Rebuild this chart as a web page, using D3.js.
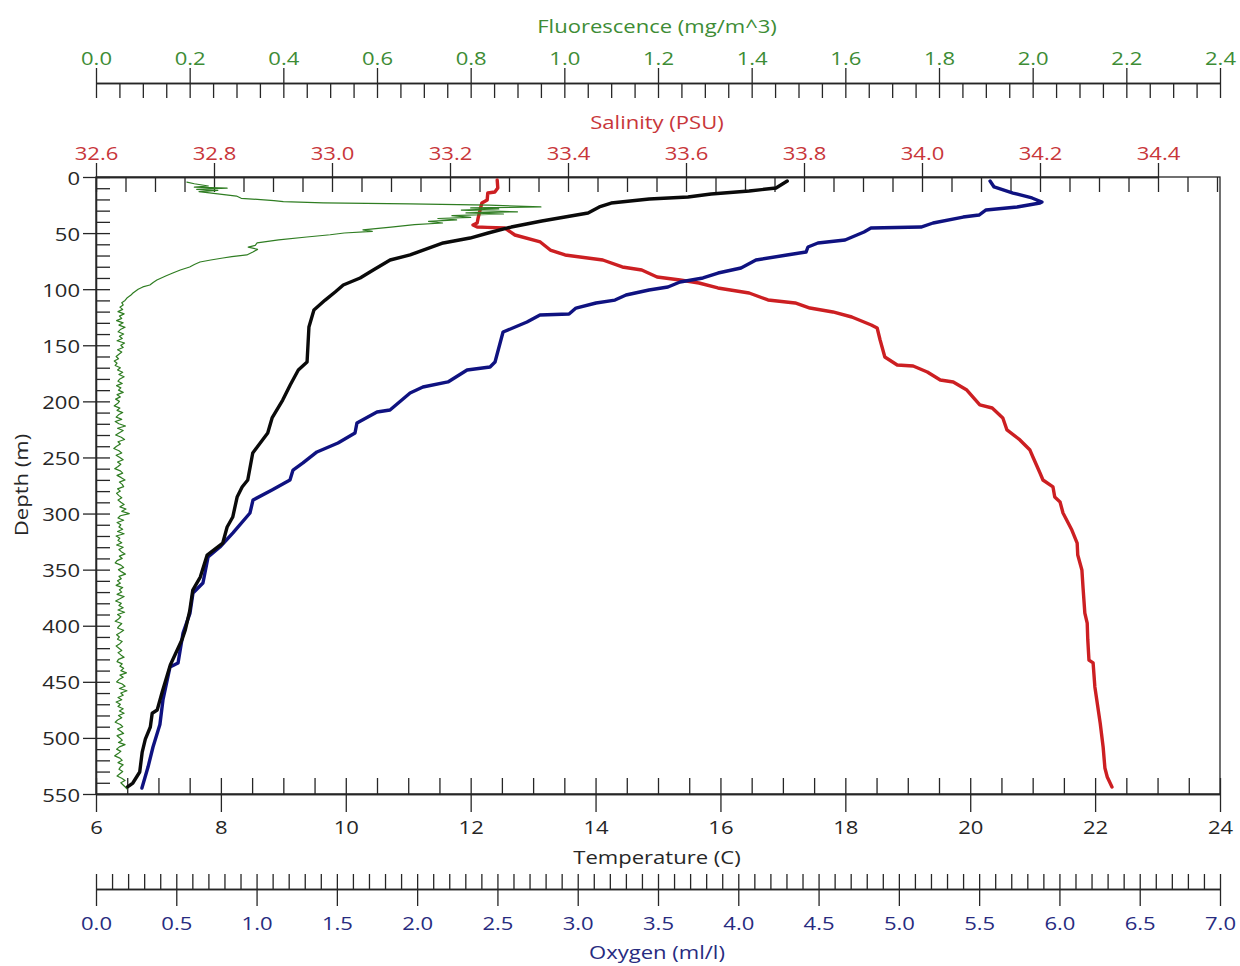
<!DOCTYPE html>
<html>
<head>
<meta charset="utf-8">
<title>CTD profile</title>
<script src="https://cdn.jsdelivr.net/npm/d3@7"></script>
<style>
  html, body { margin: 0; padding: 0; background: #ffffff; }
  svg { display: block; }
</style>
</head>
<body>
<svg id="chart" width="1240" height="966"></svg>
<script>
// ---- Cast data: each entry is [depth (m), value] ----
const temperatureProfile = [
  [3.6,17.07],[9.8,16.89],[12.5,16.46],[15.2,15.85],[17.8,15.48],[19.6,14.86],[23.2,14.25],
  [26.7,14.06],[32.1,13.88],[35.7,13.51],[39.2,13.14],[44.6,12.65],[49.9,12.28],[54.4,11.99],
  [58.8,11.56],[65.1,11.24],[69.5,11.03],[74.0,10.71],[82.9,10.44],[90.0,10.23],[96.3,9.96],
  [102.5,9.83],[109.7,9.67],[118.6,9.49],[133.7,9.41],[164.9,9.38],[172.0,9.24],[185.4,9.11],
  [198.8,8.99],[214.8,8.82],[228.2,8.75],[246.0,8.51],[270.1,8.43],[276.3,8.34],[285.3,8.26],
  [303.1,8.19],[312.0,8.10],[326.3,8.03],[337.0,7.78],[356.6,7.67],[368.2,7.55],[387.0,7.50],
  [403.8,7.43],[412.0,7.38],[435.0,7.19],[459.1,7.06],[475.1,6.98],[478.0,6.90],[490.3,6.87],
  [501.0,6.79],[512.6,6.74],[530.4,6.70],[540.2,6.59],[543.8,6.50]
];
const salinityProfile = [
  [2.7,33.280],[9.8,33.281],[13.4,33.276],[14.3,33.264],[20.5,33.263],[23.2,33.254],
  [29.4,33.251],[35.7,33.248],[41.0,33.246],[42.8,33.239],[44.6,33.246],[44.9,33.263],
  [45.5,33.293],[51.7,33.310],[57.9,33.353],[65.1,33.370],[69.5,33.395],[74.0,33.459],
  [80.2,33.492],[82.9,33.525],[89.1,33.551],[91.8,33.590],[94.5,33.622],[98.9,33.654],
  [103.4,33.707],[109.6,33.739],[112.3,33.785],[116.8,33.810],[120.3,33.849],[124.8,33.881],
  [131.9,33.914],[134.6,33.924],[145.3,33.929],[160.5,33.937],[167.6,33.958],[168.5,33.985],
  [173.8,34.009],[181.0,34.031],[182.7,34.053],[189.9,34.076],[203.2,34.098],[205.9,34.119],
  [214.8,34.137],[225.5,34.144],[234.4,34.166],[243.4,34.183],[249.6,34.188],[263.9,34.200],
  [270.1,34.205],[276.3,34.222],[285.3,34.225],[289.7,34.234],[299.5,34.239],[314.7,34.254],
  [326.3,34.263],[337.0,34.264],[350.3,34.271],[366.4,34.273],[388.7,34.276],[397.6,34.280],
  [412.7,34.281],[430.6,34.283],[433.2,34.290],[454.6,34.293],[468.9,34.297],[486.7,34.302],
  [508.1,34.307],[526.8,34.310],[534.8,34.314],[543.8,34.322]
];
const oxygenProfile = [
  [3.6,5.568],[8.9,5.593],[14.3,5.711],[18.7,5.829],[22.3,5.891],[23.2,5.879],[26.7,5.736],
  [29.4,5.543],[33.9,5.499],[35.7,5.400],[41.0,5.213],[44.6,5.138],[45.5,4.826],[49.0,4.783],
  [56.2,4.665],[58.8,4.496],[62.4,4.434],[66.9,4.422],[69.5,4.303],[74.0,4.110],[81.1,4.017],
  [85.6,3.874],[90.0,3.780],[93.6,3.637],[98.1,3.562],[100.7,3.444],[105.2,3.301],[109.7,3.232],
  [112.3,3.114],[116.8,2.989],[122.1,2.946],[123.0,2.765],[129.3,2.684],[138.2,2.535],
  [164.9,2.485],[169.4,2.454],[172.0,2.311],[182.7,2.192],[187.2,2.036],[192.5,1.956],
  [207.7,1.831],[209.5,1.750],[219.3,1.625],[228.2,1.613],[237.1,1.507],[245.1,1.376],
  [254.9,1.289],[261.2,1.227],[270.1,1.208],[279.0,1.096],[287.9,0.978],[299.5,0.959],
  [317.3,0.853],[329.8,0.772],[338.7,0.698],[361.9,0.666],[370.8,0.604],[389.0,0.585],
  [406.5,0.542],[433.2,0.511],[436.8,0.461],[466.2,0.417],[488.0,0.398],[508.1,0.355],
  [526.0,0.324],[544.7,0.286]
];
const fluorescenceProfile = [
  [4.5,0.194],[6,0.21],[8,0.24],[9,0.21],[10,0.28],[11,0.215],[12,0.26],[13,0.22],[15,0.26],
  [17,0.30],[19,0.31],[21,0.38],[22,0.40],[23,0.485],[24,0.67],[25,0.84],[26.7,0.95],
  [27.6,0.80],[28.5,0.86],[29.5,0.78],[31,0.90],[32,0.79],[33,0.87],[34.5,0.76],[36,0.80],
  [37,0.73],[38.3,0.77],[39.5,0.71],[41,0.74],[42.5,0.68],[44.6,0.63],[47.2,0.57],[48.5,0.59],
  [49.9,0.53],[51.5,0.50],[53.5,0.45],[56,0.39],[58.8,0.344],[61,0.34],[62.5,0.325],
  [64.5,0.345],[66.9,0.335],[69.5,0.322],[71,0.29],[72.2,0.271],[74,0.245],[75.8,0.222],
  [78,0.21],[80.2,0.20],[82.9,0.18],[85.6,0.164],[88,0.15],[91.8,0.13],[94,0.122],[96.3,0.115],
  [98,0.10],[100,0.09],[103.4,0.079],[105.5,0.074],[107.9,0.066],[110,0.062],[112,0.055],[114,0.058],
  [116,0.051],[118,0.057],[120,0.047],[122,0.060],[124,0.050],[126,0.055],[128,0.044],[130,0.058],
  [132,0.049],[134,0.062],[136,0.052],[138,0.047],[140,0.059],[142,0.050],[144,0.056],[146,0.045],
  [148,0.061],[150,0.053],[152,0.058],[154,0.046],[156,0.055],[158,0.049],[160,0.043],[162,0.048],
  [164,0.039],[166,0.045],[168,0.041],[170,0.052],[172,0.046],[174,0.057],[176,0.049],[178,0.060],
  [180,0.051],[182,0.047],[184,0.056],[186,0.044],[188,0.053],[190,0.048],[192,0.058],[194,0.045],
  [196,0.052],[198,0.042],[200,0.050],[202,0.046],[204,0.039],[206,0.051],[208,0.045],[210,0.057],
  [212,0.048],[214,0.043],[216,0.055],[218,0.041],[220,0.049],[222,0.063],[224,0.046],[226,0.058],
  [228,0.050],[230,0.042],[232,0.054],[234,0.061],[236,0.047],[238,0.052],[240,0.044],[242,0.038],
  [244,0.049],[246,0.055],[248,0.043],[250,0.051],[252,0.058],[254,0.046],[256,0.053],[258,0.047],
  [260,0.040],[262,0.052],[264,0.057],[266,0.045],[268,0.054],[270,0.062],[272,0.050],[274,0.056],
  [276,0.059],[278,0.046],[280,0.052],[282,0.044],[284,0.049],[286,0.055],[288,0.047],[290,0.053],
  [292,0.060],[294,0.051],[296,0.064],[298,0.055],[300,0.071],[302,0.052],[304,0.047],[306,0.059],
  [308,0.045],[310,0.053],[312,0.049],[314,0.057],[316,0.046],[318,0.060],[320,0.043],[322,0.051],
  [324,0.047],[326,0.055],[328,0.044],[330,0.058],[332,0.049],[334,0.054],[336,0.062],[338,0.050],
  [340,0.056],[342,0.045],[344,0.041],[346,0.053],[348,0.059],[350,0.048],[352,0.055],[354,0.063],
  [356,0.049],[358,0.054],[360,0.046],[362,0.052],[364,0.043],[366,0.057],[368,0.050],[370,0.055],
  [372,0.045],[374,0.060],[376,0.051],[378,0.042],[380,0.054],[382,0.049],[384,0.058],[386,0.047],
  [388,0.061],[390,0.046],[392,0.053],[394,0.048],[396,0.041],[398,0.055],[400,0.050],[402,0.046],
  [404,0.059],[406,0.052],[408,0.044],[410,0.050],[412,0.046],[414,0.056],[416,0.051],[418,0.043],
  [420,0.049],[422,0.055],[424,0.047],[426,0.053],[428,0.060],[430,0.048],[432,0.045],[434,0.056],
  [436,0.051],[438,0.059],[440,0.053],[442,0.065],[444,0.051],[446,0.058],[448,0.049],[450,0.044],
  [452,0.056],[454,0.062],[456,0.050],[458,0.066],[460,0.053],[462,0.058],[464,0.047],[466,0.055],
  [468,0.043],[470,0.052],[472,0.047],[474,0.058],[476,0.050],[478,0.060],[480,0.048],[482,0.055],
  [484,0.046],[486,0.041],[488,0.052],[490,0.057],[492,0.046],[494,0.053],[496,0.059],[498,0.045],
  [500,0.051],[502,0.056],[504,0.048],[506,0.062],[508,0.050],[510,0.044],[512,0.053],[514,0.047],
  [516,0.040],[518,0.051],[520,0.056],[522,0.047],[524,0.058],[526,0.052],[528,0.049],[530,0.057],
  [532,0.051],[534,0.045],[536,0.055],[538,0.062],[540,0.053],[542,0.058],[544,0.063],[545.5,0.066]
];

// ---- Tick labels ----
const depthTicks = [0, 50, 100, 150, 200, 250, 300, 350, 400, 450, 500, 550];
const temperatureTicks = [6, 8, 10, 12, 14, 16, 18, 20, 22, 24];
const salinityTicks = [32.6, 32.8, 33.0, 33.2, 33.4, 33.6, 33.8, 34.0, 34.2, 34.4];
const fluorescenceTicks = [0.0, 0.2, 0.4, 0.6, 0.8, 1.0, 1.2, 1.4, 1.6, 1.8, 2.0, 2.2, 2.4];
const oxygenTicks = [0.0, 0.5, 1.0, 1.5, 2.0, 2.5, 3.0, 3.5, 4.0, 4.5, 5.0, 5.5, 6.0, 6.5, 7.0];

// ---- Styling ----
const FONT = "'Open Sans', 'Noto Sans', 'DejaVu Sans', sans-serif";
const FONT_SIZE = 19;
const SX = 1.16;              // horizontal text stretch
const INK = "#262626";
const COL = {
  temperature: "#0a0a0a",
  salinity: "#cc1f22",
  oxygen: "#0f1280",
  fluorescence: "#2f7d22",
  salinityText: "#c8363a",
  oxygenText: "#272b80",
  fluorescenceText: "#3d8c35"
};

const box = { left: 96, right: 1220, top: 177, bottom: 794 };

const svg = d3.select("#chart");
svg.append("rect").attr("width", 1240).attr("height", 966).attr("fill", "#ffffff");

// ---- Scales ----
const y  = d3.scaleLinear().domain([0, 550]).range([box.top, box.bottom]);
const xT = d3.scaleLinear().domain([6, 24]).range([box.left, box.right]);
const xS = d3.scaleLinear().domain([32.6, 34.4]).range([box.left, 1158]);
const xF = d3.scaleLinear().domain([0, 2.4]).range([box.left, box.right]);
const xO = d3.scaleLinear().domain([0, 7]).range([box.left, box.right]);

const steps = (start, stop, step) =>
  d3.range(0, Math.round((stop - start) / step) + 1).map(i => +(start + i * step).toFixed(4));

function styleAxis(g) {
  g.attr("font-family", FONT).attr("font-size", FONT_SIZE);
  g.selectAll(".domain").attr("stroke", INK).attr("stroke-width", 1.3);
  g.selectAll(".tick line").attr("stroke", INK).attr("stroke-width", 1.3);
}

// Horizontal ruler: labelled major ticks on one side, major+minor ticks on the other
function horizontalRuler(scale, yPos, major, minor, labelUp, outerLen, innerLen, labelDy, fmt, color) {
  const labelled = (labelUp ? d3.axisTop(scale) : d3.axisBottom(scale))
    .tickValues(major).tickSize(outerLen).tickSizeOuter(0).tickFormat(fmt);
  const ruled = (labelUp ? d3.axisBottom(scale) : d3.axisTop(scale))
    .tickValues(minor).tickSize(innerLen).tickSizeOuter(0).tickFormat("");
  const g1 = svg.append("g").attr("transform", `translate(0,${yPos})`).call(labelled);
  const g2 = svg.append("g").attr("transform", `translate(0,${yPos})`).call(ruled);
  styleAxis(g1); styleAxis(g2);
  g1.selectAll(".tick text")
    .attr("x", 0).attr("y", 0).attr("dy", null)
    .attr("text-anchor", "middle")
    .attr("fill", color)
    .attr("transform", `translate(0,${labelDy}) scale(${SX},1)`);
}

function title(text, x, yPos, color, rotate) {
  svg.append("text")
    .attr("transform", rotate
      ? `translate(${x},${yPos}) rotate(-90) scale(${SX},1)`
      : `translate(${x},${yPos}) scale(${SX},1)`)
    .attr("text-anchor", "middle")
    .attr("font-family", FONT)
    .attr("font-size", FONT_SIZE)
    .attr("fill", color)
    .text(text);
}

// ---- Plot frame ----
svg.append("rect")
  .attr("x", box.left).attr("y", box.top)
  .attr("width", box.right - box.left).attr("height", box.bottom - box.top)
  .attr("fill", "none").attr("stroke", INK).attr("stroke-width", 1.3);

// ---- Axes ----
const f1 = d3.format(".1f");
horizontalRuler(xF, 83, fluorescenceTicks, steps(0, 2.4, 0.05), true, 15, 15, -18, f1, COL.fluorescenceText);
horizontalRuler(xS, box.top, salinityTicks, steps(32.6, 34.5, 0.05), true, 14, 15, -17, f1, COL.salinityText);
horizontalRuler(xT, box.bottom, temperatureTicks, steps(6, 24, 0.5), false, 18, 16, 40, d3.format("d"), INK);
horizontalRuler(xO, 889, oxygenTicks, steps(0, 7, 0.1), false, 17, 15, 41, f1, COL.oxygenText);

// Depth axis on the left
{
  const labelled = d3.axisLeft(y).tickValues(depthTicks).tickSize(13).tickSizeOuter(0).tickFormat(d3.format("d"));
  const ruled = d3.axisRight(y).tickValues(steps(0, 550, 10)).tickSize(14).tickSizeOuter(0).tickFormat("");
  const g1 = svg.append("g").attr("transform", `translate(${box.left},0)`).call(labelled);
  const g2 = svg.append("g").attr("transform", `translate(${box.left},0)`).call(ruled);
  styleAxis(g1); styleAxis(g2);
  g1.selectAll(".tick text")
    .attr("x", 0).attr("y", 0).attr("dy", null)
    .attr("text-anchor", "end")
    .attr("fill", INK)
    .attr("transform", `translate(-16,7) scale(${SX},1)`);
}

// ---- Axis titles ----
title("Fluorescence (mg/m^3)", 657, 33, COL.fluorescenceText);
title("Salinity (PSU)", 657, 129, COL.salinityText);
title("Temperature (C)", 657, 864, INK);
title("Oxygen (ml/l)", 657, 959, COL.oxygenText);
title("Depth (m)", 28, 485, INK, true);

// ---- Profiles ----
const profile = xScale => d3.line().x(d => xScale(d[1])).y(d => y(d[0]));
const traces = svg.append("g")
  .attr("fill", "none")
  .attr("stroke-linejoin", "round")
  .attr("stroke-linecap", "round");

traces.append("path").datum(salinityProfile)
  .attr("d", profile(xS)).attr("stroke", COL.salinity).attr("stroke-width", 3.4);
traces.append("path").datum(oxygenProfile)
  .attr("d", profile(xO)).attr("stroke", COL.oxygen).attr("stroke-width", 3.4);
traces.append("path").datum(temperatureProfile)
  .attr("d", profile(xT)).attr("stroke", COL.temperature).attr("stroke-width", 3.4);
traces.append("path").datum(fluorescenceProfile)
  .attr("d", profile(xF)).attr("stroke", COL.fluorescence).attr("stroke-width", 1.2);
</script>
</body>
</html>
